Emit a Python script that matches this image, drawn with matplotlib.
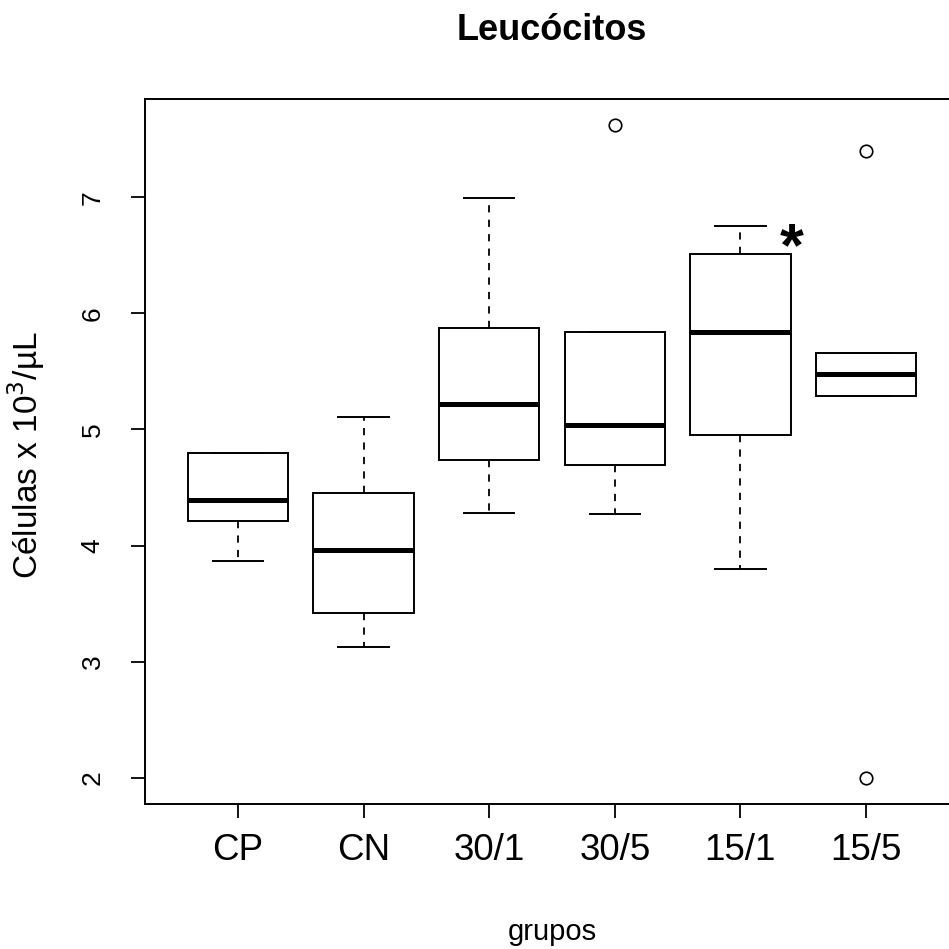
import matplotlib
matplotlib.use("Agg")
import matplotlib.pyplot as plt

plt.rcParams['font.family'] = ['Liberation Sans', 'DejaVu Sans']

groups = ["CP", "CN", "30/1", "30/5", "15/1", "15/5"]
whis_low = [3.87, 3.13, 4.28, 4.27, 3.80, 5.29]
q1 = [4.21, 3.42, 4.74, 4.69, 4.95, 5.29]
medians = [4.39, 3.96, 5.22, 5.04, 5.84, 5.48]
q3 = [4.80, 4.45, 5.87, 5.84, 6.51, 5.66]
whis_high = [4.80, 5.11, 6.99, 5.84, 6.75, 5.66]
outliers = [[], [], [], [7.62], [], [7.40, 2.00]]
yticks = [2, 3, 4, 5, 6, 7]
star_group = 5  # 15/1 (1-based position)
star_value = 6.55

fig = plt.figure(figsize=(9.49, 9.49), dpi=100)
ax = fig.add_axes([145/949, (949-804)/949, 814/949, 705/949])

stats = []
for i, g in enumerate(groups):
    stats.append(dict(label=g, whislo=whis_low[i], q1=q1[i], med=medians[i],
                      q3=q3[i], whishi=whis_high[i], fliers=outliers[i]))

positions = list(range(1, len(groups) + 1))
ax.bxp(stats, positions=positions, widths=0.8, capwidths=0.4,
       patch_artist=True,
       boxprops=dict(facecolor='white', edgecolor='black', linewidth=1.4),
       medianprops=dict(color='black', linewidth=3.6, solid_capstyle='butt'),
       whiskerprops=dict(color='black', linewidth=1.3, linestyle=(0, (4, 4))),
       capprops=dict(color='black', linewidth=1.4),
       flierprops=dict(marker='o', markerfacecolor='none', markeredgecolor='black',
                       markersize=9, markeredgewidth=1.2))

ax.set_xlim(0.26, 6.74)
ax.set_ylim(1.775, 7.845)
ax.set_xticks(positions)
ax.set_xticklabels(groups, fontsize=26.5)
ax.set_yticks(yticks)
ax.set_yticklabels([str(v) for v in yticks], fontsize=19, rotation=90, va='center')
ax.tick_params(axis='both', length=10, width=1.3, color='black')
ax.tick_params(axis='x', pad=11)
ax.tick_params(axis='y', pad=19)
for s in ax.spines.values():
    s.set_linewidth(1.4)

ax.text(star_group + 0.41, star_value, "*", fontsize=44, fontweight='bold',
        ha='center', va='center')

fig.text(552/949, 1 - 30/949, "Leucócitos", fontsize=26, fontweight='bold',
         ha='center', va='center')
fig.text(552/949, 1 - 932/949, "grupos", fontsize=21, ha='center', va='center')
fig.text(26/949, 1 - 455/949, "Células x 10$^3$/µL", fontsize=24, rotation=90,
         ha='center', va='center')

fig.savefig("out.png", dpi=100)
